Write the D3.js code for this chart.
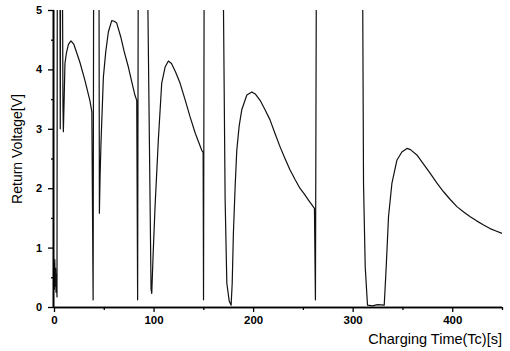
<!DOCTYPE html>
<html>
<head>
<meta charset="utf-8">
<script src="https://cdn.jsdelivr.net/npm/d3@7/dist/d3.min.js"></script>
<style>
  html, body { margin: 0; padding: 0; background: #fff; }
  svg { display: block; }
</style>
</head>
<body>
<svg id="chart" width="510" height="351"></svg>
<script>
// Charging time (s) and return voltage (V).
// Values of 5.5 are off-scale excursions clipped at the top of the plot.
const time = [
  0, 0.4, 0.8, 1.2, 1.6, 2.0, 2.4, 3.0, 3.3, 6.0, 6.3, 6.6, 8.5, 9.0, 9.4, 10.2, 11.0, 12.5, 14.5, 17,
  20, 26, 31, 36, 38, 39.3, 39.8, 45.2, 45.6, 46.3, 47.2, 49.6, 52, 54.6, 58, 60.5, 63, 67, 70.5, 74.7,
  78, 81.4, 83.1, 84, 84.6, 94, 97.5, 98.2, 99.5, 101.5, 104.8, 108.2, 111.6, 114.9, 118, 122, 126.6, 131.5, 136.7, 142,
  148.4, 149.8, 150.2, 150.8, 170, 171.9, 173.6, 176, 177.9, 179, 180.2, 182, 183.6, 186, 188.6, 193.7, 198.7, 202.5, 207, 212,
  217, 222, 227, 232, 237, 242, 247, 251.5, 255.6, 261.6, 262.6, 263.5, 310, 310.9, 312.6, 314.9, 320, 325, 331.7, 333.7,
  336, 339.4, 344.4, 349.4, 354.5, 358, 364.5, 371, 377.9, 384.5, 391.3, 398, 404.7, 411.5, 418.1, 424.5, 431.5, 438, 444, 450
];
const voltage = [
  0.75, 0.3, 0.8, 0.35, 0.65, 0.25, 0.55, 0.17, 5.5, 5.5, 3.0, 5.5, 5.5, 3.4, 2.95, 3.5, 4.1, 4.28, 4.42, 4.48,
  4.42, 4.12, 3.82, 3.48, 3.29, 0.12, 5.5, 5.5, 1.58, 2.2, 2.76, 3.87, 4.3, 4.63, 4.82, 4.81, 4.78, 4.55, 4.3, 4.04,
  3.8, 3.56, 3.48, 0.12, 5.5, 5.5, 0.3, 0.23, 0.85, 1.69, 2.81, 3.77, 4.04, 4.14, 4.1, 3.96, 3.77, 3.5, 3.2, 2.92,
  2.64, 2.6, 0.12, 5.5, 5.5, 1.8, 0.4, 0.1, 0.03, 0.4, 1.24, 2.05, 2.64, 3.05, 3.32, 3.57, 3.62, 3.58, 3.48, 3.32,
  3.15, 2.92, 2.7, 2.5, 2.31, 2.15, 2.0, 1.9, 1.8, 1.66, 0.12, 5.5, 5.5, 2.08, 0.68, 0.03, 0.02, 0.04, 0.03, 0.68,
  1.52, 2.08, 2.47, 2.61, 2.67, 2.65, 2.56, 2.41, 2.25, 2.09, 1.94, 1.81, 1.69, 1.6, 1.52, 1.45, 1.38, 1.32, 1.28, 1.24
];
const xMajorTicks = [0, 100, 200, 300, 400];
const xMinorTicks = [50, 150, 250, 350, 450];
const yMajorTicks = [0, 1, 2, 3, 4, 5];
const yMinorTicks = [0.5, 1.5, 2.5, 3.5, 4.5];
const yTickLabels = ["0", "1", "2", "3", "4", "5"];
const xTitle = "Charging Time(Tc)[s]";
const yTitle = "Return Voltage[V]";

const svg = d3.select("#chart");
const mLeft = 54, mRight = 502, mTop = 10, mBottom = 307;

const x = d3.scaleLinear().domain([0, 450]).range([mLeft, mRight]);
const y = d3.scaleLinear().domain([0, 5]).range([mBottom, mTop]);

svg.append("clipPath").attr("id", "plotclip")
  .append("rect")
  .attr("x", mLeft).attr("y", mTop)
  .attr("width", mRight - mLeft + 2).attr("height", mBottom - mTop);

const pts = time.map((t, i) => [t, voltage[i]]);
const line = d3.line().x(d => x(d[0])).y(d => y(d[1]));

svg.append("path")
  .datum(pts)
  .attr("clip-path", "url(#plotclip)")
  .attr("fill", "none")
  .attr("stroke", "#111")
  .attr("stroke-width", 1.2)
  .attr("stroke-linejoin", "round")
  .attr("d", line);

// X axis
const xAxis = svg.append("g").attr("transform", `translate(0,${mBottom})`);
xAxis.call(d3.axisBottom(x).tickValues(xMajorTicks).tickSize(5).tickPadding(4).tickFormat(d3.format("d")));
xAxis.append("g").call(d3.axisBottom(x).tickValues(xMinorTicks).tickSize(3).tickFormat(""));
xAxis.selectAll(".domain").attr("stroke", "#000").attr("stroke-width", 1.6).attr("d", `M${mLeft},0.5H${mRight}`);
xAxis.selectAll(".tick line").attr("stroke", "#000").attr("stroke-width", 1.3);
xAxis.selectAll("text")
  .attr("font-family", "Liberation Sans, Arial, sans-serif")
  .attr("font-weight", "bold")
  .attr("font-size", 11.5)
  .attr("fill", "#000");

// Y axis
const yAxis = svg.append("g").attr("transform", `translate(${mLeft},0)`);
yAxis.call(d3.axisLeft(y).tickValues(yMajorTicks).tickSize(6).tickPadding(6)
  .tickFormat((d, i) => yTickLabels[i]));
yAxis.append("g").call(d3.axisLeft(y).tickValues(yMinorTicks).tickSize(3).tickFormat(""));
yAxis.selectAll(".domain").attr("stroke", "#000").attr("stroke-width", 1.6).attr("d", `M-0.5,${mTop}V${mBottom}`);
yAxis.selectAll(".tick line").attr("stroke", "#000").attr("stroke-width", 1.3);
yAxis.selectAll("text")
  .attr("font-family", "Liberation Sans, Arial, sans-serif")
  .attr("font-weight", "bold")
  .attr("font-size", 11)
  .attr("fill", "#000");

// Titles
svg.append("text")
  .attr("x", mRight).attr("y", 344)
  .attr("text-anchor", "end")
  .attr("font-family", "Liberation Sans, Arial, sans-serif")
  .attr("font-size", 14.5)
  .attr("fill", "#000")
  .text(xTitle);

svg.append("text")
  .attr("transform", `translate(22,149) rotate(-90)`)
  .attr("text-anchor", "middle")
  .attr("font-family", "Liberation Sans, Arial, sans-serif")
  .attr("font-size", 14)
  .attr("fill", "#000")
  .text(yTitle);
</script>
</body>
</html>
